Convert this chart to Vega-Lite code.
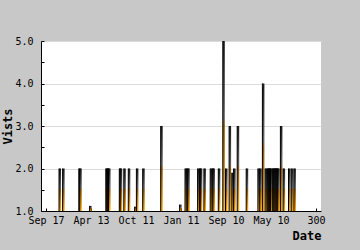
{
  "$schema": "https://vega.github.io/schema/vega-lite/v6.json",
  "width": 280,
  "height": 170,
  "autosize": {"type": "none"},
  "padding": {"left": 41, "top": 41, "right": 39, "bottom": 39},
  "background": "#c8c8c8",
  "config": {
    "view": {"fill": "white", "stroke": null},
    "axis": {
      "domainColor": "#000",
      "tickColor": "#000",
      "labelColor": "#000",
      "titleColor": "#000",
      "labelFont": "DejaVu Sans Mono",
      "labelFontSize": 10,
      "titleFont": "DejaVu Sans Mono",
      "titleFontSize": 12,
      "titleFontWeight": "bold"
    }
  },
  "data": {
    "values": [
      {"idx": 15, "visits": 2}, {"idx": 19, "visits": 2},
      {"idx": 37, "visits": 2}, {"idx": 38, "visits": 2},
      {"idx": 49, "visits": 1.12},
      {"idx": 67, "visits": 2}, {"idx": 68, "visits": 2}, {"idx": 69, "visits": 2}, {"idx": 70, "visits": 2},
      {"idx": 82, "visits": 2}, {"idx": 83, "visits": 2},
      {"idx": 87, "visits": 2}, {"idx": 92, "visits": 2},
      {"idx": 99, "visits": 1.1},
      {"idx": 101, "visits": 2}, {"idx": 108, "visits": 2},
      {"idx": 128, "visits": 3},
      {"idx": 149, "visits": 1.15},
      {"idx": 155, "visits": 2}, {"idx": 157, "visits": 2}, {"idx": 158, "visits": 2},
      {"idx": 169, "visits": 2}, {"idx": 171, "visits": 2}, {"idx": 172, "visits": 2},
      {"idx": 176, "visits": 2},
      {"idx": 183, "visits": 2}, {"idx": 185, "visits": 2}, {"idx": 186, "visits": 2},
      {"idx": 192, "visits": 2},
      {"idx": 197, "visits": 5},
      {"idx": 200, "visits": 2},
      {"idx": 204, "visits": 3},
      {"idx": 207, "visits": 1.9},
      {"idx": 209, "visits": 2},
      {"idx": 213, "visits": 3},
      {"idx": 223, "visits": 2},
      {"idx": 236, "visits": 2}, {"idx": 238, "visits": 2},
      {"idx": 241, "visits": 4},
      {"idx": 244, "visits": 2},
      {"idx": 246, "visits": 2}, {"idx": 247, "visits": 2}, {"idx": 248, "visits": 2}, {"idx": 249, "visits": 2}, {"idx": 250, "visits": 2},
      {"idx": 252, "visits": 2}, {"idx": 253, "visits": 2}, {"idx": 254, "visits": 2}, {"idx": 255, "visits": 2}, {"idx": 256, "visits": 2}, {"idx": 257, "visits": 2}, {"idx": 258, "visits": 2},
      {"idx": 261, "visits": 3},
      {"idx": 264, "visits": 2},
      {"idx": 270, "visits": 2}, {"idx": 273, "visits": 2}, {"idx": 276, "visits": 2}
    ]
  },
  "encoding": {
    "x": {
      "field": "idx",
      "type": "quantitative",
      "scale": {"domain": [0, 300], "nice": false, "zero": false},
      "axis": {
        "title": "Date",
        "titleAnchor": "end",
        "titlePadding": 5,
        "values": [0, 50, 100, 150, 200, 250, 300],
        "labelExpr": "datum.value == 0 ? 'Sep 17' : datum.value == 50 ? 'Apr 13' : datum.value == 100 ? 'Oct 11' : datum.value == 150 ? 'Jan 11' : datum.value == 200 ? 'Sep 10' : datum.value == 250 ? 'May 10' : '300'",
        "grid": false,
        "tickSize": -3,
        "labelPadding": 7,
        "labelFlush": false,
        "labelOverlap": false
      }
    },
    "y": {
      "field": "visits",
      "type": "quantitative",
      "scale": {"domain": [1, 5], "nice": false, "zero": false},
      "axis": {
        "title": "Vists",
        "values": [1, 1.5, 2, 2.5, 3, 3.5, 4, 4.5, 5],
        "labelExpr": "datum.value % 1 == 0 ? format(datum.value, '.1f') : ''",
        "grid": true,
        "gridColor": "#dcdcdc",
        "gridOpacity": {"condition": {"test": "datum.value % 1 != 0", "value": 0}, "value": 1},
        "tickSize": -3,
        "labelPadding": 11,
        "titlePadding": 0
      }
    },
    "y2": {"datum": 1}
  },
  "layer": [
    {
      "mark": {
        "type": "bar",
        "size": 2,
        "xOffset": 0.5,
        "fill": {
          "gradient": "linear",
          "x1": 0, "y1": 0, "x2": 0, "y2": 1,
          "stops": [
            {"offset": 0, "color": "#1a1a1a"},
            {"offset": 0.45, "color": "#606060"},
            {"offset": 0.5, "color": "#8a5200"},
            {"offset": 1, "color": "#ffa500"}
          ]
        }
      }
    },
    {
      "mark": {"type": "rule", "color": "#000", "strokeWidth": 1, "xOffset": -0.5}
    }
  ]
}
